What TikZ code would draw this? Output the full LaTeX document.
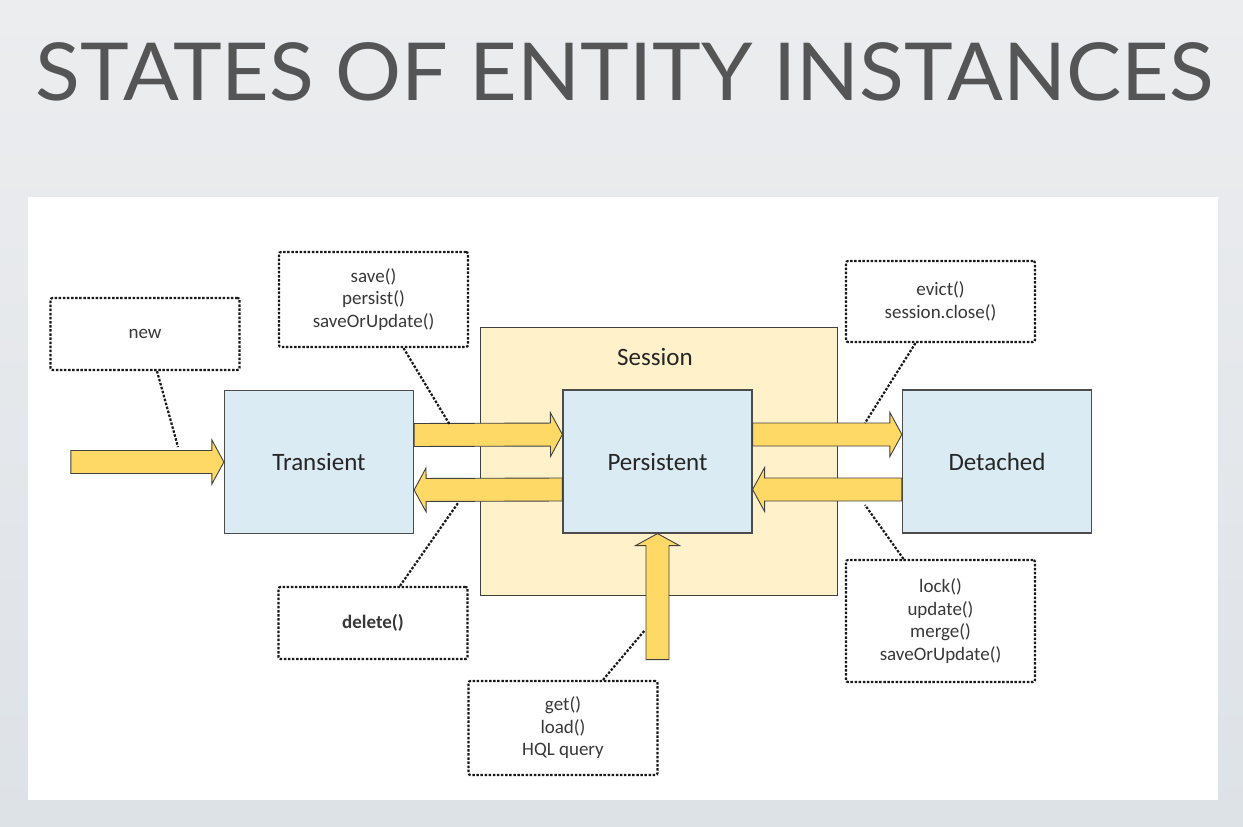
\documentclass[tikz,border=0pt]{standalone}
\usepackage{fontspec}
\setmainfont{Carlito}
\newfontfamily\titlefont{Lato}
\usetikzlibrary{calc}
\definecolor{arrowgold}{HTML}{FFD966}
\definecolor{statefill}{HTML}{DBEBF3}
\definecolor{sessionfill}{HTML}{FFF1CA}
\definecolor{titlegray}{HTML}{555555}
\definecolor{bgtop}{HTML}{ECEDEF}
\definecolor{bgbottom}{HTML}{DDE2E7}
\tikzset{
  state/.style={draw=black!70, fill=statefill, line width=1.2pt, minimum width=189pt, minimum height=143pt,
    font=\fontsize{25}{30}\selectfont, text=black!85},
  sessionbox/.style={draw=black!75, fill=sessionfill, line width=1pt, minimum width=357pt, minimum height=268pt},
  notebox/.style={draw=black!90, line width=2.2pt, dash pattern=on 2.5pt off 1.6pt, rounded corners=2pt,
    minimum width=189pt, align=center, font=\fontsize{19}{22.5}\selectfont, text=black!78},
  callout/.style={draw=black!90, line width=2.2pt, dash pattern=on 2.5pt off 1.6pt},
  fatarrow/.style={draw=black!75, fill=arrowgold, line width=0.9pt, line join=miter}
}
% block arrow from #1 (tail) to #2 (tip)
\newcommand{\blockarrow}[2]{%
  \coordinate (ba-h) at ($(#2)!12pt!(#1)$);
  \draw[fatarrow] ($(#1)!11.5pt!90:(#2)$) -- ($(ba-h)!11.5pt!90:(#2)$) -- ($(ba-h)!22pt!90:(#2)$) -- (#2)
    -- ($(ba-h)!22pt!-90:(#2)$) -- ($(ba-h)!11.5pt!-90:(#2)$) -- ($(#1)!11.5pt!-90:(#2)$) -- cycle;}
\begin{document}
\begin{tikzpicture}[x=1pt, y=-1pt]
    \useasboundingbox (0,0) rectangle (1243,827);
    \shade[top color=bgtop, bottom color=bgbottom] (0,0) rectangle (1243,827);
    \node[anchor=base west, inner sep=0, xscale=1.032, transform shape, text=titlegray,
      font=\titlefont\fontsize{80}{80}\selectfont] (title) at (35,100) {STATES OF ENTITY INSTANCES};
    \fill[white] (28,197) rectangle (1218,800);

    % session and states
    \node[sessionbox] (session) at (658.5,461) {};
    \node[text=black!85] (sesslbl) at (655,357) {\fontsize{25}{30}\selectfont Session};
    \node[state] (trans) at (319,462) {Transient};
    \node[state] (pers) at (657.5,461.5) {Persistent};
    \node[state] (det) at (997,461.5) {Detached};

    % notes
    \node[notebox, minimum height=72pt] (newlbl) at (145,334) {new};
    \node[notebox, minimum height=95pt] (savelbl) at (373.5,299.5) {save()\\persist()\\saveOrUpdate()};
    \node[notebox, minimum height=72pt] (dellbl) at (373,623) {\bfseries delete()};
    \node[notebox, minimum height=94pt] (getlbl) at (563,728) {get()\\load()\\HQL query};
    \node[notebox, minimum height=81pt] (evictlbl) at (940.5,301.5) {evict()\\session.close()};
    \node[notebox, minimum height=122pt] (locklbl) at (940.5,621) {lock()\\update()\\merge()\\saveOrUpdate()};

    % arrows
    \coordinate (newtail) at ($(trans.west)+(-153,0)$);
    \blockarrow{newtail}{trans.west}
    \coordinate (savetail) at ($(trans.east)+(0,-27)$);
    \coordinate (savetip) at ($(pers.west)+(0,-27)$);
    \blockarrow{savetail}{savetip}
    \coordinate (deltail) at ($(pers.west)+(0,28)$);
    \coordinate (deltip) at ($(trans.east)+(0,28)$);
    \blockarrow{deltail}{deltip}
    \coordinate (evicttail) at ($(pers.east)+(0,-27)$);
    \coordinate (evicttip) at ($(det.west)+(0,-27)$);
    \blockarrow{evicttail}{evicttip}
    \coordinate (locktail) at ($(det.west)+(0,28)$);
    \coordinate (locktip) at ($(pers.east)+(0,28)$);
    \blockarrow{locktail}{locktip}
    \coordinate (gettail) at ($(pers.south)+(0,126)$);
    \blockarrow{gettail}{pers.south}

    % callouts
    \coordinate (newpt) at (178,447);
    \coordinate (savept) at (450,425);
    \coordinate (delpt) at (458,503);
    \coordinate (getpt) at (645,630);
    \coordinate (evictpt) at (865,423);
    \coordinate (lockpt) at (865,505);
    \draw[callout] ($(newlbl.south)+(12,0)$) -- (newpt);
    \draw[callout] ($(savelbl.south)+(30,0)$) -- (savept);
    \draw[callout] ($(dellbl.north)+(27,0)$) -- (delpt);
    \draw[callout] ($(getlbl.north)+(40,0)$) -- (getpt);
    \draw[callout] ($(evictlbl.south)+(-25,0)$) -- (evictpt);
    \draw[callout] ($(locklbl.north)+(-37,0)$) -- (lockpt);
\end{tikzpicture}
\end{document}
